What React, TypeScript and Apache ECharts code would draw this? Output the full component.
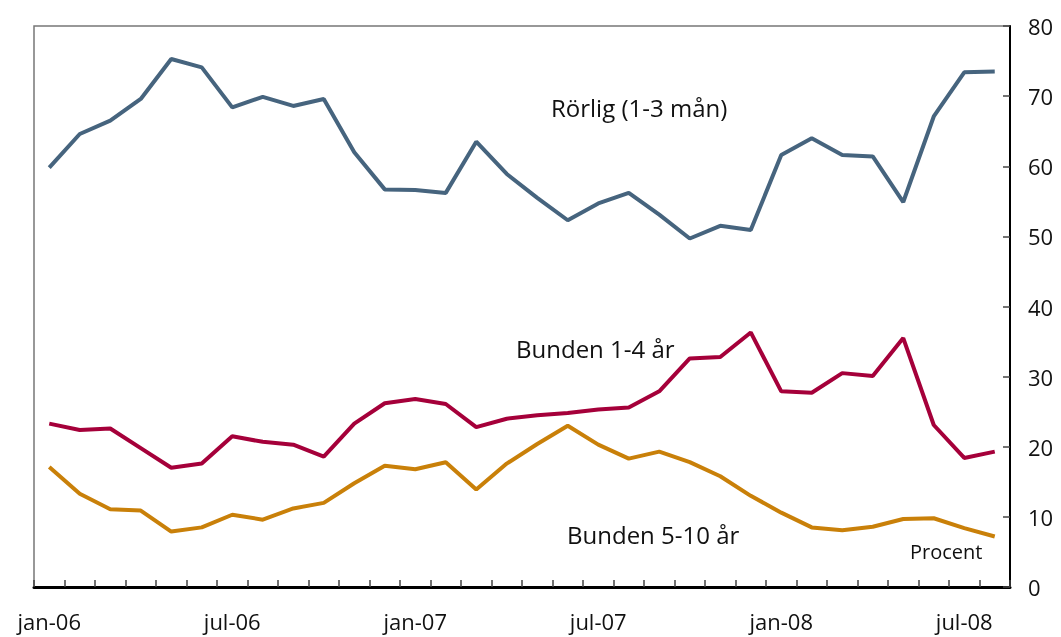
import React, { useEffect, useRef } from "react";
import * as echarts from "echarts";

const months = [
  "jan-06","feb-06","mar-06","apr-06","maj-06","jun-06","jul-06","aug-06","sep-06","okt-06","nov-06","dec-06",
  "jan-07","feb-07","mar-07","apr-07","maj-07","jun-07","jul-07","aug-07","sep-07","okt-07","nov-07","dec-07",
  "jan-08","feb-08","mar-08","apr-08","maj-08","jun-08","jul-08","aug-08",
];

const rorlig = [
  59.8, 64.6, 66.5, 69.6, 75.3, 74.1, 68.4, 69.9, 68.6, 69.6, 62.0, 56.7,
  56.6, 56.2, 63.5, 58.9, 55.5, 52.3, 54.7, 56.2, 53.1, 49.7, 51.5, 50.9,
  61.6, 64.0, 61.6, 61.4, 54.9, 67.1, 73.4, 73.5,
];

const bunden14 = [
  23.3, 22.4, 22.6, 19.8, 17.0, 17.6, 21.5, 20.7, 20.3, 18.6, 23.3, 26.2,
  26.8, 26.1, 22.8, 24.0, 24.5, 24.8, 25.3, 25.6, 27.9, 32.6, 32.8, 36.3,
  27.9, 27.7, 30.5, 30.1, 35.5, 23.1, 18.4, 19.3,
];

const bunden510 = [
  17.1, 13.3, 11.1, 10.9, 7.9, 8.5, 10.3, 9.6, 11.2, 12.0, 14.8, 17.3,
  16.8, 17.8, 13.9, 17.6, 20.4, 23.0, 20.3, 18.3, 19.3, 17.8, 15.8, 13.0,
  10.6, 8.5, 8.1, 8.6, 9.7, 9.8, 8.4, 7.2,
];

const seriesNames = ["Rörlig (1-3 mån)", "Bunden 1-4 år", "Bunden 5-10 år"];
const unitLabel = "Procent";

const FONT = "'Open Sans', 'DejaVu Sans', sans-serif";

export default function App() {
  const ref = useRef<HTMLDivElement>(null);

  useEffect(() => {
    if (!ref.current) return;
    const chart = echarts.init(ref.current, undefined, { renderer: "svg" });
    const lineStyle = (color: string) => ({ color, width: 4 });
    chart.setOption({
      animation: false,
      grid: {
        left: 34,
        right: 51,
        top: 26,
        bottom: 50,
        show: true,
        borderColor: "#777",
        borderWidth: 1.5,
        backgroundColor: "transparent",
      },
      xAxis: {
        type: "category",
        data: months,
        boundaryGap: true,
        axisLine: { show: true, lineStyle: { color: "#000", width: 3 } },
        axisTick: {
          show: true,
          inside: true,
          interval: 0,
          length: 7,
          lineStyle: { color: "#444", width: 1.5 },
        },
        axisLabel: {
          interval: (index: number) => index % 6 === 0,
          fontFamily: FONT,
          fontSize: 22,
          color: "#111",
          margin: 23,
        },
        splitLine: { show: false },
      },
      yAxis: {
        type: "value",
        position: "right",
        min: 0,
        max: 80,
        interval: 10,
        axisLine: { show: true, lineStyle: { color: "#000", width: 2 } },
        axisTick: {
          show: true,
          inside: true,
          length: 7,
          lineStyle: { color: "#444", width: 1.5 },
        },
        axisLabel: {
          fontFamily: FONT,
          fontSize: 22,
          color: "#111",
          margin: 18,
        },
        splitLine: { show: false },
      },
      series: [
        {
          name: seriesNames[0],
          type: "line",
          data: rorlig,
          symbol: "none",
          lineStyle: lineStyle("#46647e"),
          itemStyle: { color: "#46647e" },
        },
        {
          name: seriesNames[1],
          type: "line",
          data: bunden14,
          symbol: "none",
          lineStyle: lineStyle("#a5003a"),
          itemStyle: { color: "#a5003a" },
        },
        {
          name: seriesNames[2],
          type: "line",
          data: bunden510,
          symbol: "none",
          lineStyle: lineStyle("#c98009"),
          itemStyle: { color: "#c98009" },
        },
      ],
      graphic: [
        {
          type: "text",
          left: 551,
          top: 95,
          style: { text: seriesNames[0], fontFamily: FONT, fontSize: 24, fill: "#111" },
        },
        {
          type: "text",
          left: 516,
          top: 336,
          style: { text: seriesNames[1], fontFamily: FONT, fontSize: 24, fill: "#111" },
        },
        {
          type: "text",
          left: 567,
          top: 522,
          style: { text: seriesNames[2], fontFamily: FONT, fontSize: 24, fill: "#111" },
        },
        {
          type: "text",
          left: 910,
          top: 541,
          style: { text: unitLabel, fontFamily: FONT, fontSize: 20, fill: "#111" },
        },
      ],
    });
    return () => chart.dispose();
  }, []);

  return (
    <div
      ref={ref}
      style={{ position: "fixed", left: 0, top: 0, width: 1061, height: 637 }}
    />
  );
}
